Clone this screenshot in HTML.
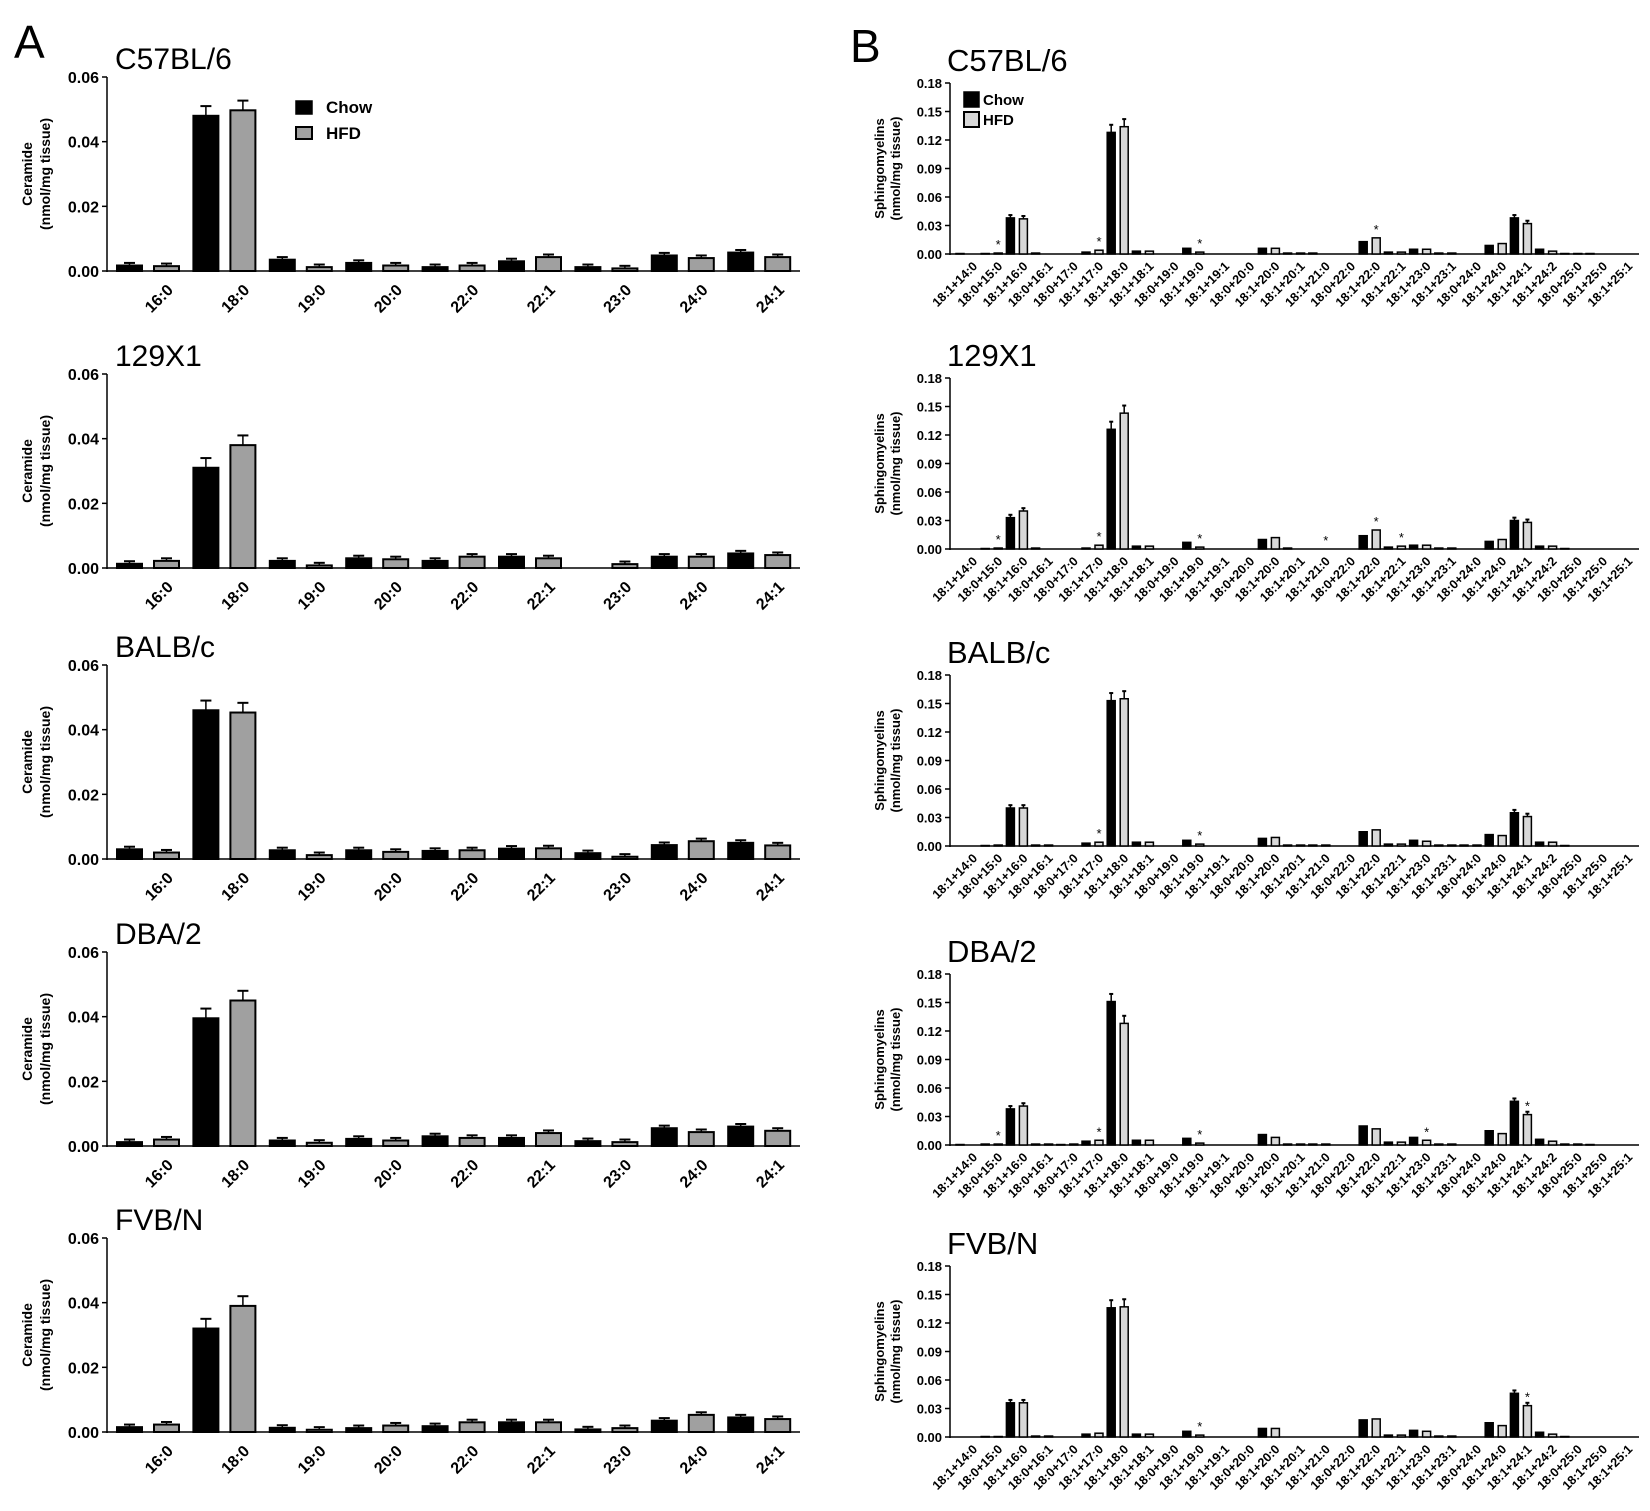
<!DOCTYPE html>
<html><head><meta charset="utf-8"><style>
body{margin:0;background:#fff;}
svg{display:block;font-family:"Liberation Sans",Arial,sans-serif;}
</style></head><body>
<svg id="s" width="1650" height="1511" viewBox="0 0 1650 1511" xmlns="http://www.w3.org/2000/svg">
<rect width="1650" height="1511" fill="#fff"/>
<text x="14" y="58" font-size="46">A</text>
<text x="850" y="62" font-size="46">B</text>
</svg>
<script>
var s=document.getElementById('s'),h='';
function t(x,y,str,o){h+='<text x="'+x+'" y="'+y+'" '+(o||'')+'>'+str+'</text>';}
function r(x,y,w,hh,f,sw){if(hh<0.5)hh=0.5;h+='<rect x="'+x+'" y="'+y+'" width="'+w+'" height="'+hh+'" fill="'+f+'" stroke="#000" stroke-width="'+sw+'"/>';}
function l(x1,y1,x2,y2,w){h+='<line x1="'+x1+'" y1="'+y1+'" x2="'+x2+'" y2="'+y2+'" stroke="#000" stroke-width="'+(w||1.5)+'"/>';}
// Panel A
var Acats=["16:0","18:0","19:0","20:0","22:0","22:1","23:0","24:0","24:1"];
var Atitles=["C57BL/6","129X1","BALB/c","DBA/2","FVB/N"];
var Abase=[271,568,859,1146,1432];
var Ad=[
[[.0017,.0015],[.048,.0497],[.0035,.0012],[.0025,.0017],[.0012,.0017],[.003,.0043],[.0012,.0008],[.0048,.004],[.0057,.0043]],
[[.0013,.0022],[.031,.038],[.0022,.0008],[.003,.0027],[.0022,.0035],[.0035,.003],[0,.0012],[.0035,.0035],[.0045,.004]],
[[.003,.002],[.046,.0453],[.0027,.0012],[.0027,.0022],[.0025,.0027],[.0032,.0033],[.0018,.0007],[.0043,.0055],[.005,.0042]],
[[.0012,.002],[.0395,.045],[.0017,.001],[.0022,.0017],[.003,.0025],[.0025,.004],[.0015,.0012],[.0055,.0043],[.006,.0047]],
[[.0015,.0023],[.032,.039],[.0013,.0007],[.0012,.002],[.0018,.003],[.003,.003],[.0008,.0012],[.0035,.0053],[.0045,.004]]];
for(var p=0;p<5;p++){
 var b=Abase[p],H=194,ax=107;
 t(115,b-H-8,Atitles[p],'font-size="30"');
 l(ax,b-H,ax,b+1);l(ax,b,800,b);
 for(var k=0;k<4;k++){var y=b-k*H/3;l(ax-5,y,ax,y);t(ax-8,y+6,(k*0.02).toFixed(2),'font-size="16" font-weight="bold" text-anchor="end"');}
 h+='<text transform="translate(32,'+(b-H/2)+') rotate(-90)" font-size="14" font-weight="bold" text-anchor="middle">Ceramide</text>';
 h+='<text transform="translate(50,'+(b-H/2)+') rotate(-90)" font-size="14" font-weight="bold" text-anchor="middle">(nmol/mg tissue)</text>';
 for(var c=0;c<9;c++){
  var x0=117+c*76.4;
  for(var j=0;j<2;j++){
   var v=Ad[p][c][j],x=x0+j*37,hh=v/0.06*H,e=(v>0.02?0.003:0.0008);
   if(v>0){var ey=b-(v+e)/0.06*H;l(x+12.5,ey,x+12.5,b-hh);l(x+7,ey,x+18,ey,2);
   r(x,b-hh,25,hh,j?'#a0a0a0':'#000',2);}
  }
  var cx=x0+31;
  h+='<text transform="translate('+(cx+26)+','+(b+20)+') rotate(-45)" font-size="16" font-weight="bold" text-anchor="end">'+Acats[c]+'</text>';
 }
}
r(296,101,16,13,'#000',1.5);t(326,113,'Chow','font-size="17" font-weight="bold"');
r(296,127,16,12,'#a0a0a0',2);t(326,139,'HFD','font-size="17" font-weight="bold"');
// Panel B
var Bcats=["18:1+14:0","18:0+15:0","18:1+16:0","18:0+16:1","18:0+17:0","18:1+17:0","18:1+18:0","18:1+18:1","18:0+19:0","18:1+19:0","18:1+19:1","18:0+20:0","18:1+20:0","18:1+20:1","18:1+21:0","18:0+22:0","18:1+22:0","18:1+22:1","18:1+23:0","18:1+23:1","18:0+24:0","18:1+24:0","18:1+24:1","18:1+24:2","18:0+25:0","18:1+25:0","18:1+25:1"];
var Bbase=[254,549,846,1145,1437];
var Bd=[
{0:[.0005,0],1:[.0005,.001],2:[.038,.037],3:[.001,0],5:[.002,.004],6:[.128,.134],7:[.003,.003],9:[.006,.002],12:[.006,.006],13:[.001,.001],14:[.001,0],16:[.013,.017],17:[.002,.002],18:[.005,.005],19:[.001,.001],21:[.009,.011],22:[.038,.032],23:[.005,.003],24:[.0005,.0005],25:[.0005,0]},
{1:[.0005,.001],2:[.033,.04],3:[.001,0],5:[.001,.004],6:[.126,.143],7:[.003,.003],9:[.007,.002],12:[.01,.012],13:[.001,0],16:[.014,.02],17:[.002,.003],18:[.004,.004],19:[.001,.001],21:[.008,.01],22:[.03,.028],23:[.003,.003],24:[.0005,0]},
{1:[.0005,.001],2:[.04,.04],3:[.001,.001],5:[.003,.004],6:[.153,.155],7:[.004,.004],9:[.006,.002],12:[.008,.009],13:[.001,.001],14:[.001,.001],16:[.015,.017],17:[.002,.002],18:[.006,.005],19:[.001,.001],20:[.001,.001],21:[.012,.011],22:[.035,.031],23:[.004,.004],24:[.0005,0]},
{0:[.0005,0],1:[.001,.001],2:[.038,.041],3:[.001,.001],4:[.0005,.001],5:[.004,.005],6:[.151,.128],7:[.005,.005],9:[.007,.002],12:[.011,.008],13:[.001,.001],14:[.001,.001],16:[.02,.017],17:[.003,.003],18:[.008,.005],19:[.001,.001],21:[.015,.012],22:[.046,.032],23:[.006,.004],24:[.001,.001],25:[.0005,0]},
{1:[.0005,.0005],2:[.036,.036],3:[.001,.001],5:[.003,.004],6:[.136,.137],7:[.003,.003],9:[.006,.002],12:[.009,.009],16:[.018,.019],17:[.002,.002],18:[.007,.006],19:[.001,.001],21:[.015,.012],22:[.046,.033],23:[.005,.003],24:[.0005,0]}];
var Bst=[[[1,1],[5,1],[9,1],[16,1]],[[1,1],[5,1],[9,1],[14,1],[16,1],[17,1]],[[5,1],[9,1]],[[1,1],[5,1],[9,1],[18,1],[22,1]],[[9,1],[22,1]]];
var Bt=["C57BL/6","129X1","BALB/c","DBA/2","FVB/N"];
var Bticks=["0.00","0.03","0.06","0.09","0.12","0.15","0.18"];
for(var p=0;p<5;p++){
 var b=Bbase[p],H=171,ax=950;
 t(947,b-H-12,Bt[p],'font-size="31"');
 l(ax,b-H,ax,b+1);l(ax,b,1639,b);
 for(var k=0;k<7;k++){var y=b-k*H/6;l(ax-5,y,ax,y);t(ax-8,y+5,Bticks[k],'font-size="13" font-weight="bold" text-anchor="end"');}
 h+='<text transform="translate(884,'+(b-H/2)+') rotate(-90)" font-size="13" font-weight="bold" text-anchor="middle">Sphingomyelins</text>';
 h+='<text transform="translate(900,'+(b-H/2)+') rotate(-90)" font-size="13" font-weight="bold" text-anchor="middle">(nmol/mg tissue)</text>';
 for(var c=0;c<27;c++){
  var x0=956+c*25.2,d=Bd[p][c];
  if(d){for(var j=0;j<2;j++){var v=d[j];if(v<=0)continue;var x=x0+j*13,hh=v/0.18*H;
   if(v>0.02){var e=v>0.1?0.008:0.003;var ey=b-(v+e)/0.18*H;l(x+4,ey,x+4,b-hh);l(x+2,ey,x+6,ey,2);}
   r(x,b-hh,8,hh,j?'#d8d8d8':'#000',1.5);}}
  h+='<text transform="translate('+(x0+22)+','+(b+13)+') rotate(-45)" font-size="12.5" font-weight="bold" text-anchor="end">'+Bcats[c]+'</text>';
 }
 Bst[p].forEach(function(a){var d=Bd[p][a[0]]||[0,0];var v=d[a[1]];var x=956+a[0]*25.2+a[1]*13+4;t(x,b-v/0.18*H-4,'*','font-size="13" text-anchor="middle"');});
}
r(964,92,15,15,'#000',1.5);t(983,105,'Chow','font-size="15" font-weight="bold"');
r(964,112,15,15,'#d8d8d8',2);t(983,125,'HFD','font-size="15" font-weight="bold"');
s.innerHTML+=h;
</script>
</body></html>
